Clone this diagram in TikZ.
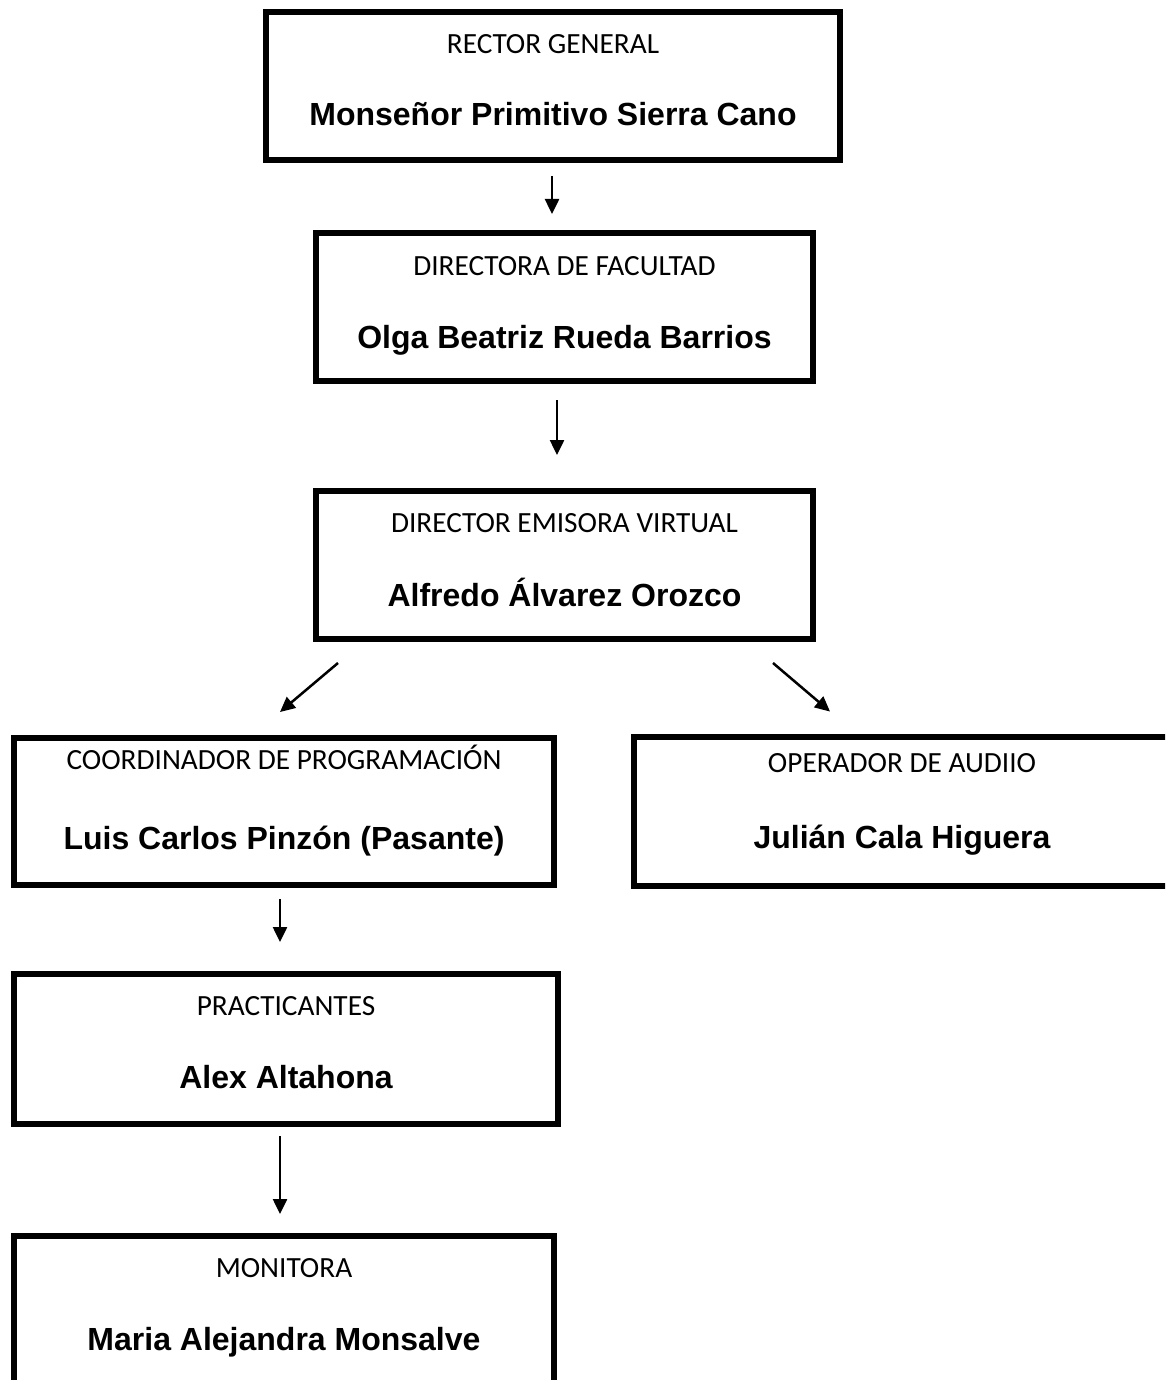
\documentclass[tikz,border=0pt]{standalone}
\usepackage{fontspec}
\usetikzlibrary{arrows.meta}
\newfontfamily\calibri{Carlito}
\newfontfamily\arial{Liberation Sans}
\tikzset{
  cargo/.style={draw, line width=6pt, minimum height=148pt, inner sep=0pt},
  titulo/.style={anchor=base, inner sep=0pt, font={\calibri\fontsize{29.3}{35}\selectfont}},
  nombre/.style={anchor=base, inner sep=0pt, font={\arial\bfseries\fontsize{32}{38}\selectfont}},
  flecha/.style={line width=2.5pt, -{Triangle[length=15pt,width=14pt]}}
}
\begin{document}
\begin{tikzpicture}[x=1pt,y=-1pt]
        \useasboundingbox (0,0) rectangle (1165,1380);
        \clip (0,0) rectangle (1165,1380);

        \node [cargo, minimum width=574pt] (rector) at (553,86) {};
        \node [titulo] (rectorT) at (553,54) {RECTOR GENERAL};
        \node [nombre] (rectorN) at (553,126) {Monseñor Primitivo Sierra Cano};

        \node [cargo, minimum width=497pt] (directora) at (564.5,307) {};
        \node [titulo] (directoraT) at (564.5,275) {DIRECTORA DE FACULTAD};
        \node [nombre] (directoraN) at (564.5,348) {Olga Beatriz Rueda Barrios};

        \node [cargo, minimum width=497pt] (emisora) at (564.5,565) {};
        \node [titulo] (emisoraT) at (564.5,532) {DIRECTOR EMISORA VIRTUAL};
        \node [nombre] (emisoraN) at (564.5,606) {Alfredo Álvarez Orozco};

        \node [cargo, minimum width=540pt, minimum height=147pt] (coordinador) at (284,811.5) {};
        \node [titulo] (coordinadorT) at (284,769) {COORDINADOR DE PROGRAMACIÓN};
        \node [nombre] (coordinadorN) at (284,849) {Luis Carlos Pinzón (Pasante)};

        \node [cargo, minimum width=536pt, minimum height=149pt] (operador) at (902,811.5) {};
        \node [titulo] (operadorT) at (902,772) {OPERADOR DE AUDIIO};
        \node [nombre] (operadorN) at (902,848) {Julián Cala Higuera};

        \node [cargo, minimum width=544pt, minimum height=150pt] (practicantes) at (286,1049) {};
        \node [titulo] (practicantesT) at (286,1015) {PRACTICANTES};
        \node [nombre] (practicantesN) at (286,1088) {Alex Altahona};

        \node [cargo, minimum width=540pt] (monitora) at (284,1310) {};
        \node [titulo] (monitoraT) at (284,1277) {MONITORA};
        \node [nombre] (monitoraN) at (284,1350) {Maria Alejandra Monsalve};

        \draw [flecha] ([xshift=-1pt,yshift=-13pt]rector.south) -- ([xshift=-12.5pt,yshift=16pt]directora.north);
        \draw [flecha] ([xshift=-7.5pt,yshift=-16pt]directora.south) -- ([xshift=-7.5pt,yshift=33pt]emisora.north);
        \draw [flecha] ([xshift=-226.5pt,yshift=-21pt]emisora.south) -- ([xshift=-4pt,yshift=23pt]coordinador.north);
        \draw [flecha] ([xshift=208.5pt,yshift=-21pt]emisora.south) -- ([xshift=-72pt,yshift=22.5pt]operador.north);
        \draw [flecha] ([xshift=-4pt,yshift=-11pt]coordinador.south) -- ([xshift=-6pt,yshift=29pt]practicantes.north);
        \draw [flecha] ([xshift=-6pt,yshift=-9pt]practicantes.south) -- ([xshift=-4pt,yshift=19pt]monitora.north);
    \end{tikzpicture}
\end{document}
